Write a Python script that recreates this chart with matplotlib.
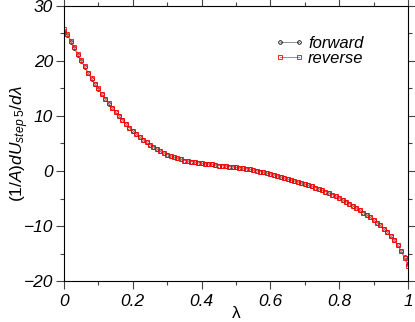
import numpy as np
import matplotlib
matplotlib.use('Agg')
import matplotlib.pyplot as plt
from matplotlib.ticker import MultipleLocator

plt.rcParams['font.family'] = ['Liberation Sans', 'DejaVu Sans']
plt.rcParams['mathtext.fontset'] = 'custom'
plt.rcParams['mathtext.rm'] = 'Liberation Sans'
plt.rcParams['mathtext.it'] = 'Liberation Sans:italic'

# lambda grid (0 .. 1 step 0.01)
lam = [i / 100 for i in range(101)]

# reverse series
reverse = [25.8, 24.9, 23.7, 22.5, 21.3, 20.1, 19.0, 17.9, 16.9, 15.9,
           15.0, 14.0, 13.1, 12.3, 11.5, 10.7, 10.0, 9.3, 8.6, 7.9,
           7.3, 6.7, 6.2, 5.7, 5.2, 4.8, 4.4, 4.0, 3.6, 3.3,
           3.0, 2.7, 2.5, 2.3, 2.1, 1.9, 1.8, 1.7, 1.6, 1.5,
           1.4, 1.3, 1.25, 1.2, 1.1, 1.0, 0.95, 0.9, 0.8, 0.75,
           0.65, 0.55, 0.5, 0.4, 0.3, 0.15, 0.05, -0.1, -0.25, -0.4,
           -0.55, -0.7, -0.9, -1.1, -1.3, -1.5, -1.65, -1.85, -2.0, -2.2,
           -2.4, -2.6, -2.8, -3.0, -3.25, -3.5, -3.75, -4.0, -4.3, -4.6,
           -4.9, -5.25, -5.6, -5.95, -6.35, -6.75, -7.15, -7.55, -8.0, -8.4,
           -8.9, -9.4, -9.9, -10.5, -11.1, -11.8, -12.6, -13.5, -14.6, -15.8,
           -17.2]

# forward series, nearly on top of reverse
forward = [25.5, 24.7, 23.5, 22.3, 21.1, 20.0, 18.9, 17.8, 16.8, 15.8,
           14.9, 14.0, 13.1, 12.2, 11.4, 10.7, 10.0, 9.3, 8.6, 7.9,
           7.3, 6.7, 6.2, 5.7, 5.2, 4.8, 4.4, 4.0, 3.6, 3.3,
           3.0, 2.7, 2.5, 2.3, 2.1, 1.9, 1.8, 1.7, 1.6, 1.5,
           1.4, 1.3, 1.25, 1.2, 1.1, 1.0, 0.95, 0.9, 0.8, 0.75,
           0.65, 0.55, 0.5, 0.4, 0.3, 0.15, 0.05, -0.1, -0.25, -0.4,
           -0.55, -0.7, -0.9, -1.1, -1.3, -1.5, -1.65, -1.85, -2.0, -2.2,
           -2.4, -2.6, -2.8, -3.0, -3.25, -3.5, -3.75, -4.0, -4.3, -4.6,
           -4.9, -5.25, -5.6, -5.95, -6.35, -6.75, -7.15, -7.55, -8.0, -8.4,
           -8.9, -9.4, -9.9, -10.5, -11.1, -11.8, -12.5, -13.4, -14.5, -15.6,
           -16.9]

fig = plt.figure(figsize=(4.15, 3.22), dpi=100)
ax = fig.add_axes([0.1542, 0.1273, 0.983 - 0.1542, 0.9814 - 0.1273])

ax.plot(lam, forward, '-o', color='#808080', mec='black', lw=0.6, ms=2.6,
        mfc='none', mew=0.6, label='forward')
ax.plot(lam, reverse, '-s', color='#ff5050', mec='red', lw=0.6, ms=2.4,
        mfc='none', mew=0.6, label='reverse')

ax.set_xlim(0, 1)
ax.set_ylim(-20, 30)
ax.xaxis.set_minor_locator(MultipleLocator(0.1))
ax.yaxis.set_major_locator(MultipleLocator(10))
ax.yaxis.set_minor_locator(MultipleLocator(5))
ax.set_xticks([0, 0.2, 0.4, 0.6, 0.8, 1])
ax.set_xticklabels(['0', '0.2', '0.4', '0.6', '0.8', '1'])
ax.tick_params(which='both', direction='out', top=True, right=True,
               labelsize=12.5, color='#444444')
ax.tick_params(axis='y', which='both', pad=2.5)
ax.tick_params(which='major', length=5.5, width=0.8)
ax.tick_params(which='minor', length=3, width=0.8)
for lab in ax.get_xticklabels() + ax.get_yticklabels():
    lab.set_fontstyle('italic')

ax.set_xlabel('λ', fontsize=12.5, labelpad=-2)
ax.set_ylabel(r'$(1/A)dU_{step\;5}/d\lambda$', fontsize=12.5, va='center')
ax.yaxis.set_label_coords(-0.13, 0.5)

leg = ax.legend(loc='upper left', bbox_to_anchor=(0.613, 0.89), frameon=False,
                fontsize=12, handlelength=1.75, handletextpad=0.25,
                labelspacing=0, borderpad=0, borderaxespad=0, numpoints=2)
for t in leg.get_texts():
    t.set_fontstyle('italic')

fig.savefig('out.png', dpi=100)
